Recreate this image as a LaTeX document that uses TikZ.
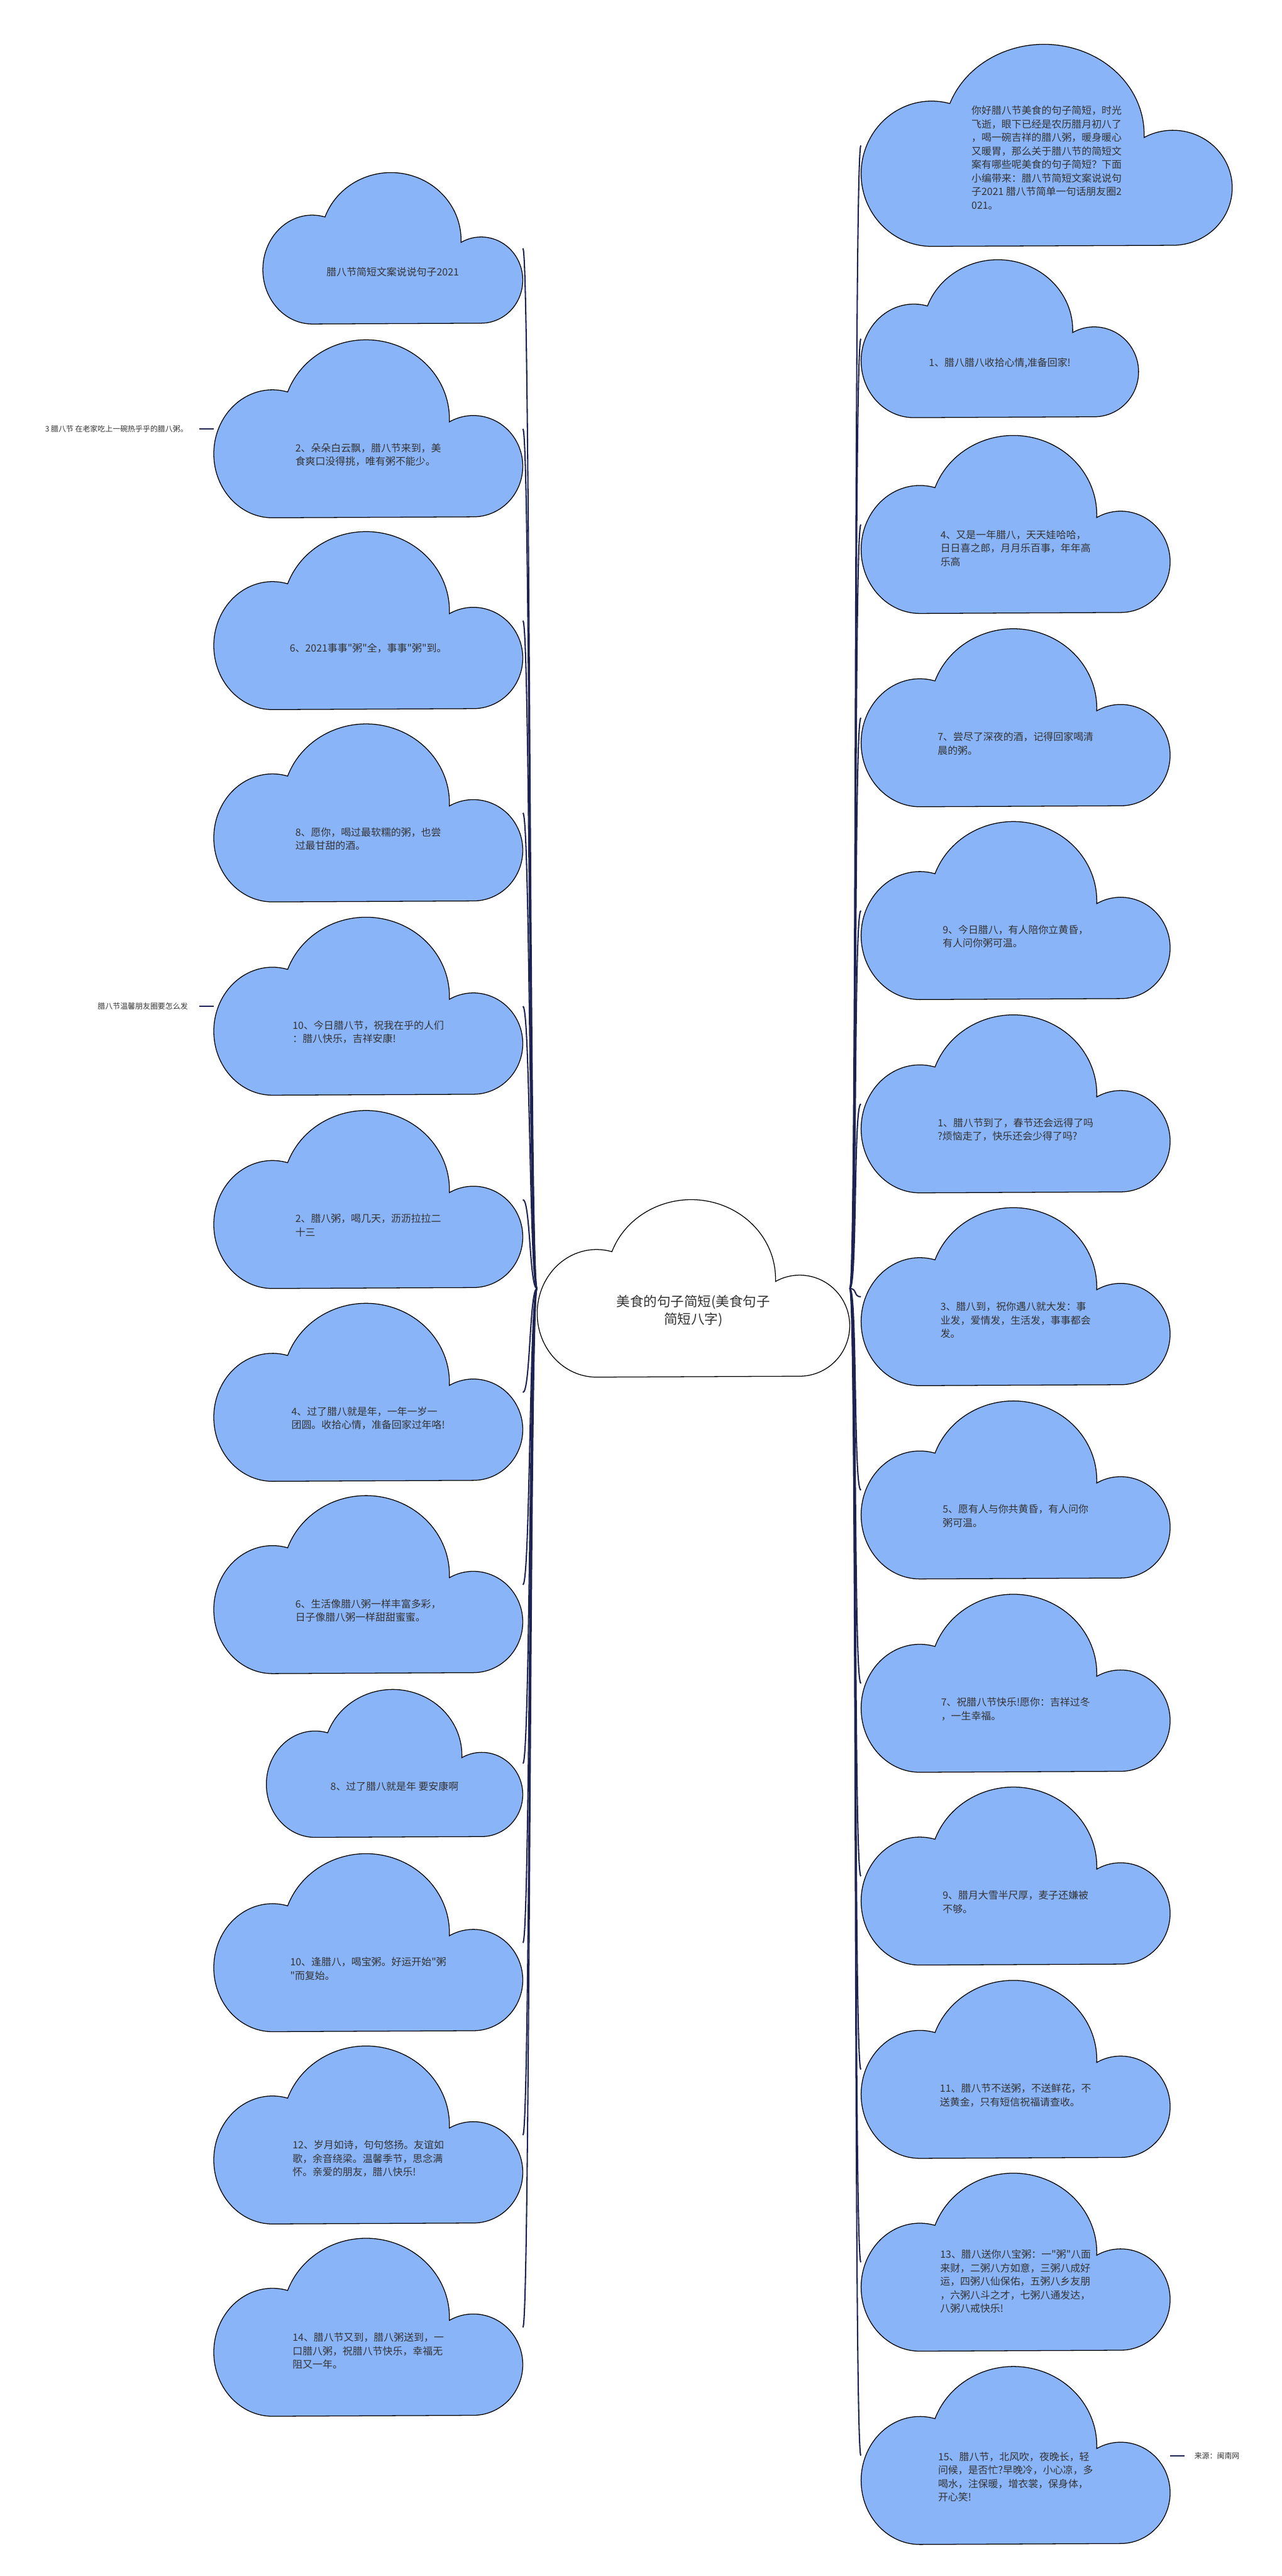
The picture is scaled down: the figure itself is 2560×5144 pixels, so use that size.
\documentclass[tikz,border=0pt]{standalone}
\usepackage{fontspec}
\setmainfont{Noto Sans CJK SC}[Ligatures=TeXOff]
\usetikzlibrary{positioning}

\definecolor{cloudblue}{HTML}{8AB4F8}
\definecolor{linknavy}{HTML}{1E2452}
\definecolor{txtgray}{HTML}{333333}

\tikzset{
  cloudline/.style={draw=black, line width=0.8pt},
  cloudbox/.style={inner sep=0pt, draw=none},
  cloudtext/.style={align=left, inner sep=0pt, text=txtgray, font=\fontsize{10pt}{13.5pt}\selectfont},
  roottext/.style={align=center, inner sep=0pt, text=txtgray, font=\fontsize{13.5pt}{18pt}\selectfont},
  sidetext/.style={text=txtgray, font=\fontsize{7.5pt}{9pt}\selectfont},
  link/.style={draw=linknavy, line width=1.3pt},
}

% cloud outline: x y w h (top left corner, px) and fill
\newcommand\cloudshape[5]{%
  \pgfmathsetmacro\cw{#3*0.5}\pgfmathsetmacro\ch{#4*0.5}%
  \begin{scope}[shift={(#1,#2+#4)}, x=\cw pt, y=\ch pt]
    \filldraw[cloudline, fill=#5] (0.19,0)
      arc[start angle=270, end angle=75, x radius=0.19, y radius=0.36]
      arc[start angle=160, end angle=-2, x radius=0.27, y radius=0.446]
      arc[start angle=119, end angle=-90, x radius=0.16, y radius=0.285] -- cycle;
  \end{scope}}

% name, x, y, w, h, fill, text height (part of h), text
\newcommand\cloud[8]{%
  \cloudshape{#2}{#3}{#4}{#5}{#6}
  \node[cloudbox, minimum width=\cw pt, minimum height=\ch pt] (#1) at (#2+#4/2,#3+#5/2) {};
  \node[cloudtext] (#1t) at (#2+#4/2,#3+#7*#5) {#8};
}

\begin{document}
\begin{tikzpicture}[x=0.5pt, y=-0.5pt]
  \useasboundingbox (0,0) rectangle (2560,5144);

  % root
  \cloudshape{1073}{2396}{624}{354}{white}
  \node[cloudbox, minimum width=312pt, minimum height=177pt] (root) at (1385,2573) {};
  \node[roottext] (roott) at (1385,2618) {美食的句子简短(美食句子\\简短八字)};

  % left side
  \cloud{l1}{525}{345}{519}{302}{cloudblue}{0.655}{腊八节简短文案说说句子2021}
  \cloud{l2}{427}{679}{617}{355}{cloudblue}{0.645}{2、朵朵白云飘，腊八节来到，美\\食爽口没得挑，唯有粥不能少。}
  \cloud{l3}{427}{1062}{617}{355}{cloudblue}{0.655}{6、2021事事"粥"全，事事"粥"到。}
  \cloud{l4}{427}{1446}{617}{355}{cloudblue}{0.645}{8、愿你，喝过最软糯的粥，也尝\\过最甘甜的酒。}
  \cloud{l5}{427}{1832}{617}{355}{cloudblue}{0.645}{10、今日腊八节，祝我在乎的人们\\：腊八快乐，吉祥安康!}
  \cloud{l6}{427}{2218}{617}{355}{cloudblue}{0.645}{2、腊八粥，喝几天，沥沥拉拉二\\十三}
  \cloud{l7}{427}{2603}{617}{355}{cloudblue}{0.645}{4、过了腊八就是年，一年一岁一\\团圆。收拾心情，准备回家过年咯!}
  \cloud{l8}{427}{2987}{617}{355}{cloudblue}{0.645}{6、生活像腊八粥一样丰富多彩，\\日子像腊八粥一样甜甜蜜蜜。}
  \cloud{l9}{532}{3374}{512}{295}{cloudblue}{0.655}{8、过了腊八就是年 要安康啊}
  \cloud{l10}{427}{3702}{617}{355}{cloudblue}{0.645}{10、逢腊八，喝宝粥。好运开始"粥\\"而复始。}
  \cloud{l11}{427}{4086}{617}{355}{cloudblue}{0.632}{12、岁月如诗，句句悠扬。友谊如\\歌，余音绕梁。温馨季节，思念满\\怀。亲爱的朋友，腊八快乐!}
  \cloud{l12}{427}{4470}{617}{355}{cloudblue}{0.632}{14、腊八节又到，腊八粥送到，一\\口腊八粥，祝腊八节快乐，幸福无\\阻又一年。}

  % right side
  \cloud{r1}{1720}{89}{741}{403}{cloudblue}{0.56}{你好腊八节美食的句子简短，时光\\飞逝，眼下已经是农历腊月初八了\\，喝一碗吉祥的腊八粥，暖身暖心\\又暖胃，那么关于腊八节的简短文\\案有哪些呢美食的句子简短？下面\\小编带来：腊八节简短文案说说句\\子2021 腊八节简单一句话朋友圈2\\021。}
  \cloud{r2}{1720}{519}{554}{315}{cloudblue}{0.655}{1、腊八腊八收拾心情,准备回家!}
  \cloud{r3}{1720}{870}{617}{355}{cloudblue}{0.632}{4、又是一年腊八，天天娃哈哈，\\日日喜之郎，月月乐百事，年年高\\乐高}
  \cloud{r4}{1720}{1256}{617}{355}{cloudblue}{0.645}{7、尝尽了深夜的酒，记得回家喝清\\晨的粥。}
  \cloud{r5}{1720}{1641}{617}{355}{cloudblue}{0.645}{9、今日腊八，有人陪你立黄昏，\\有人问你粥可温。}
  \cloud{r6}{1720}{2027}{617}{355}{cloudblue}{0.645}{1、腊八节到了，春节还会远得了吗\\?烦恼走了，快乐还会少得了吗?}
  \cloud{r7}{1720}{2412}{617}{355}{cloudblue}{0.632}{3、腊八到，祝你遇八就大发：事\\业发，爱情发，生活发，事事都会\\发。}
  \cloud{r8}{1720}{2798}{617}{355}{cloudblue}{0.645}{5、愿有人与你共黄昏，有人问你\\粥可温。}
  \cloud{r9}{1720}{3184}{617}{355}{cloudblue}{0.645}{7、祝腊八节快乐!愿你：吉祥过冬\\，一生幸福。}
  \cloud{r10}{1720}{3569}{617}{355}{cloudblue}{0.645}{9、腊月大雪半尺厚，麦子还嫌被\\不够。}
  \cloud{r11}{1720}{3955}{617}{355}{cloudblue}{0.645}{11、腊八节不送粥，不送鲜花，不\\送黄金，只有短信祝福请查收。}
  \cloud{r12}{1720}{4340}{617}{355}{cloudblue}{0.607}{13、腊八送你八宝粥：一"粥"八面\\来财，二粥八方如意，三粥八成好\\运，四粥八仙保佑，五粥八乡友朋\\，六粥八斗之才，七粥八通发达，\\八粥八戒快乐!}
  \cloud{r13}{1720}{4726}{617}{355}{cloudblue}{0.62}{15、腊八节，北风吹，夜晚长，轻\\问候，是否忙?早晚冷，小心凉，多\\喝水，注保暖，增衣裳，保身体，\\开心笑!}

  % links
  \foreach \n in {l1,l2,l3,l4,l5,l6,l7,l8,l9,l10,l11,l12}
    \draw[link] (root.west) .. controls +(-15,0) and +(15,0) .. (\n.east);
  \foreach \n in {r1,r2,r3,r4,r5,r6,r7,r8,r9,r10,r11,r12,r13}
    \draw[link] (root.east) .. controls +(15,0) and +(-15,0) .. (\n.west);

  % side notes
  \node[sidetext, anchor=east, inner xsep=11.5pt] (s1) at ([xshift=-14pt]l2.west) {3 腊八节 在老家吃上一碗热乎乎的腊八粥。};
  \node[sidetext, anchor=east, inner xsep=11.5pt] (s2) at ([xshift=-14pt]l5.west) {腊八节温馨朋友圈要怎么发};
  \node[sidetext, anchor=west, inner xsep=10pt] (src) at ([xshift=14pt]r13.east) {来源：闽南网};
  \draw[link] (l2.west) -- (s1.east);
  \draw[link] (l5.west) -- (s2.east);
  \draw[link] (r13.east) -- (src.west);
\end{tikzpicture}
\end{document}
